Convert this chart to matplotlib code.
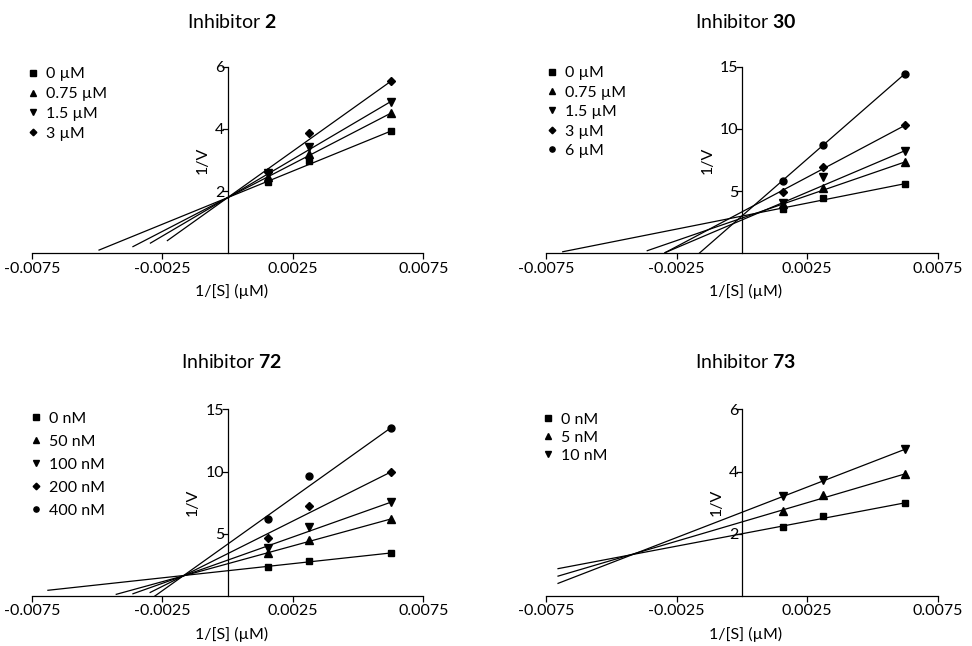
import matplotlib.pyplot as plt
import numpy as np

plt.rcParams['font.family'] = ['Lato', 'DejaVu Sans']
plt.rcParams['mathtext.fontset'] = 'custom'
plt.rcParams['mathtext.rm'] = 'Lato'
plt.rcParams['mathtext.bf'] = 'Lato:bold'

# 1/[S] values (S = 640, 320, 160 uM)
s_inv = [0.0015625, 0.003125, 0.00625]

inh2_labels = ['0 µM', '0.75 µM', '1.5 µM', '3 µM']
inh2_v = [[2.28, 2.97, 3.93], [2.44, 3.19, 4.50], [2.57, 3.43, 4.88], [2.60, 3.87, 5.53]]
inh2_slope = [342, 434, 494, 598]
inh2_icpt = [1.79, 1.79, 1.79, 1.79]
inh2_xstart = [-0.00493, -0.00363, -0.00296, -0.00231]

inh30_labels = ['0 µM', '0.75 µM', '1.5 µM', '3 µM', '6 µM']
inh30_v = [[3.56, 4.45, 5.60], [3.96, 5.22, 7.34], [4.07, 6.10, 8.25],
           [4.90, 6.90, 10.29], [5.84, 8.70, 14.44]]
inh30_slope = [417, 722, 891, 1113, 1830]
inh30_icpt = [2.99, 2.83, 2.68, 3.33, 3.00]
inh30_xstart = [-0.00687, -0.00363, -0.00295, -0.00295, -0.00164]

inh72_labels = ['0 nM', '50 nM', '100 nM', '200 nM', '400 nM']
inh72_v = [[2.36, 2.84, 3.46], [3.46, 4.47, 6.19], [3.86, 5.55, 7.53],
           [4.69, 7.23, 9.96], [6.19, 9.67, 13.53]]
inh72_slope = [228, 575, 744, 1049, 1494]
inh72_icpt = [2.03, 2.59, 2.88, 3.40, 4.165]
inh72_xstart = [-0.00689, -0.00427, -0.00363, -0.00297, -0.00279]

inh73_labels = ['0 nM', '5 nM', '10 nM']
inh73_v = [[2.23, 2.57, 3.00], [2.72, 3.26, 3.92], [3.21, 3.73, 4.74]]
inh73_slope = [159, 247, 324]
inh73_icpt = [2.00, 2.38, 2.69]
inh73_xstart = [-0.00705, -0.00705, -0.00705]

x_ticks = [-0.0075, -0.0025, 0.0025, 0.0075]
x_ticklabels = ['-0.0075', '-0.0025', '0.0025', '0.0075']

markers = ['s', '^', 'v', 'D', 'o']
msizes = [5, 5.5, 5.5, 4.5, 5]

W, H = 972, 646


def draw_panel(ax, title, labels, values, slopes, icpts, xstarts, ymax, yticks,
               leg_xy, leg_space, title_pad):
    for i in range(len(labels)):
        ax.plot(s_inv, values[i], linestyle='none', marker=markers[i],
                markersize=msizes[i], color='black', label=labels[i])
        xx = np.array([xstarts[i], s_inv[-1]])
        ax.plot(xx, icpts[i] + slopes[i] * xx, color='black', lw=0.9)

    ax.set_xlim(-0.0075, 0.0075)
    ax.set_ylim(0, ymax)
    ax.set_xticks(x_ticks)
    ax.set_xticklabels(x_ticklabels)
    ax.set_yticks(yticks)
    ax.spines['left'].set_position(('data', 0))
    ax.spines['top'].set_visible(False)
    ax.spines['right'].set_visible(False)
    for sp in ['left', 'bottom']:
        ax.spines[sp].set_linewidth(0.9)
    ax.tick_params(direction='out', length=4, width=0.9, labelsize=11.5)
    ax.tick_params(axis='x', pad=2)
    ax.tick_params(axis='y', pad=-1.5)
    ax.set_xlabel('1/[S] (µM)', fontsize=11.5, labelpad=6, x=0.51)
    ax.set_ylabel('1/V', fontsize=11.5, labelpad=4)
    ax.set_title(title, fontsize=14, pad=title_pad, x=0.51)

    mx, my = leg_xy
    ax.legend(loc='upper left', bbox_to_anchor=((mx - 6) / W, 1 - (my - 5) / H),
              bbox_transform=ax.figure.transFigure, frameon=False, fontsize=11.5,
              markerscale=0.75, handlelength=0.8, handletextpad=0.4,
              borderpad=0, borderaxespad=0, labelspacing=leg_space)


fig = plt.figure(figsize=(9.72, 6.46), dpi=100)

ax1 = fig.add_axes([32 / W, 1 - 253.3 / H, 391.3 / W, 186.6 / H])
ax2 = fig.add_axes([546.3 / W, 1 - 253.3 / H, 391.3 / W, 186.6 / H])
ax3 = fig.add_axes([32 / W, 1 - 596 / H, 391.3 / W, 186.7 / H])
ax4 = fig.add_axes([546.3 / W, 1 - 596 / H, 391.3 / W, 186.7 / H])

draw_panel(ax1, r'Inhibitor $\mathbf{2}$', inh2_labels, inh2_v, inh2_slope, inh2_icpt,
           inh2_xstart, 6, [2, 4, 6], (33, 72), 0.36, 28)
draw_panel(ax2, r'Inhibitor $\mathbf{30}$', inh30_labels, inh30_v, inh30_slope, inh30_icpt,
           inh30_xstart, 15, [5, 10, 15], (551.7, 71), 0.33, 28)
draw_panel(ax3, r'Inhibitor $\mathbf{72}$', inh72_labels, inh72_v, inh72_slope, inh72_icpt,
           inh72_xstart, 15, [5, 10, 15], (36, 416.7), 0.55, 30)
draw_panel(ax4, r'Inhibitor $\mathbf{73}$', inh73_labels, inh73_v, inh73_slope, inh73_icpt,
           inh73_xstart, 6, [2, 4, 6], (548, 417.7), 0.24, 30)

fig.savefig('out.png', dpi=100)
